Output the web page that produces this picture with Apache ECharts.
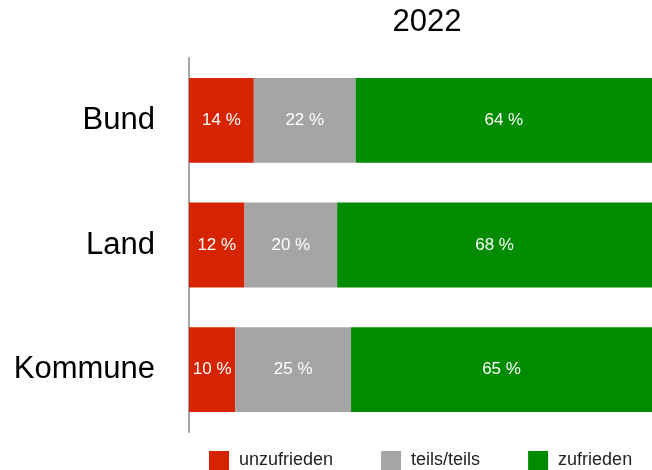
<!DOCTYPE html>
<html>
<head>
<meta charset="utf-8">
<script src="https://cdn.jsdelivr.net/npm/echarts@6/dist/echarts.min.js"></script>
<style>
  html, body { margin: 0; padding: 0; background: #fff; }
  #chart { width: 652px; height: 470px; }
</style>
</head>
<body>
<div id="chart"></div>
<script>
// Daten
const categories = ['Bund', 'Land', 'Kommune']
const unzufrieden = [14, 12, 10]
const teilsTeils = [22, 20, 25]
const zufrieden = [64, 68, 65]

const chart = echarts.init(document.getElementById('chart'))

function serie(name, data, color) {
  return {
    name: name,
    type: 'bar',
    stack: 'total',
    barWidth: '68%',
    itemStyle: { color: color },
    label: {
      show: true,
      position: 'inside',
      color: '#fff',
      fontSize: 17,
      fontFamily: 'Liberation Sans',
      formatter: '{c} %'
    },
    data: data
  }
}

chart.setOption({
  animation: false,
  textStyle: { fontFamily: 'Liberation Sans' },
  title: {
    text: '2022',
    left: 422,
    top: 2,
    textAlign: 'center',
    textStyle: { fontSize: 31, fontWeight: 'normal', color: '#000' }
  },
  legend: {
    bottom: -5,
    left: 204,
    itemWidth: 20,
    itemHeight: 19,
    itemGap: 48,
    icon: 'rect',
    textStyle: { fontSize: 18, color: '#222', padding: [0, 0, 0, 5] },
    data: ['unzufrieden', 'teils/teils', 'zufrieden']
  },
  grid: {
    left: 189,
    right: 0,
    top: 58,
    height: 374,
    containLabel: false
  },
  xAxis: {
    type: 'value',
    min: 0,
    max: 100,
    show: false
  },
  yAxis: {
    type: 'category',
    inverse: true,
    data: categories,
    axisLine: { show: true, lineStyle: { color: '#a6a6a6', width: 2 } },
    axisTick: { show: false },
    axisLabel: { fontSize: 31, color: '#000', margin: 34 }
  },
  series: [
    serie('unzufrieden', unzufrieden, '#d72400'),
    serie('teils/teils', teilsTeils, '#a5a5a5'),
    serie('zufrieden', zufrieden, '#008c00')
  ]
})
</script>
</body>
</html>
